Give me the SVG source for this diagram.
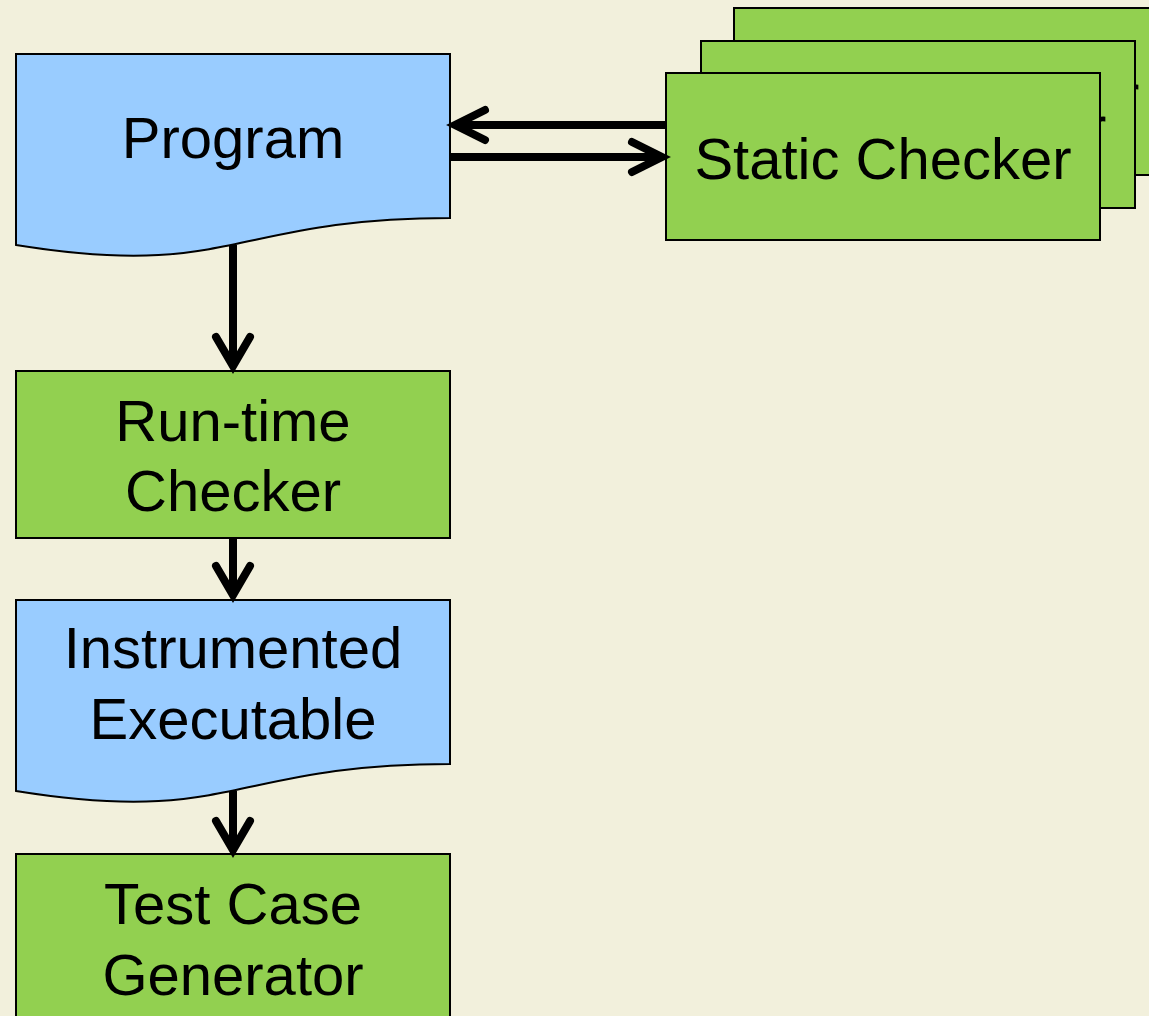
<svg xmlns="http://www.w3.org/2000/svg" width="1149" height="1016" viewBox="0 0 1149 1016">
<defs>
<style>
.doc{fill:#99CCFF;stroke:#000;stroke-width:2}
.proc{fill:#92D050;stroke:#000;stroke-width:2}
.lbl{font-family:"Liberation Sans",Arial,sans-serif;font-size:58px;fill:#000;text-anchor:middle}
.frag{font-family:"Liberation Sans",Arial,sans-serif;font-size:58px;fill:#000;text-anchor:start}
.edge{stroke:#000;stroke-width:8;fill:none}
.head{stroke:#000;stroke-width:8;fill:none;stroke-linecap:round;stroke-linejoin:miter}
</style>
</defs>
<rect x="0" y="0" width="1149" height="1016" fill="#F2F0DC"/>

<g id="static-checker-back">
<rect class="proc" x="734" y="8" width="434" height="167"/>
<text class="frag" x="1120" y="115">r</text>
</g>
<g id="static-checker-middle">
<rect class="proc" x="701" y="41" width="434" height="167"/>
<text class="frag" x="1087" y="147">r</text>
</g>
<g id="static-checker">
<rect class="proc" x="666" y="73" width="434" height="167"/>
<text class="lbl" x="883" y="179">Static Checker</text>
</g>

<g id="program">
<path class="doc" d="M16,54 H450 V218 C233,218 233,280 16,245 Z"/>
<text class="lbl" x="233" y="158">Program</text>
</g>

<g id="runtime-checker">
<rect class="proc" x="16" y="371" width="434" height="167"/>
<text class="lbl" x="233" y="441">Run-time</text>
<text class="lbl" x="233" y="511">Checker</text>
</g>

<g id="instrumented-executable">
<path class="doc" d="M16,600 H450 V764 C233,764 233,826 16,791 Z"/>
<text class="lbl" x="233" y="668">Instrumented</text>
<text class="lbl" x="233" y="739">Executable</text>
</g>

<g id="test-case-generator">
<rect class="proc" x="16" y="854" width="434" height="175"/>
<text class="lbl" x="233" y="924">Test Case</text>
<text class="lbl" x="233" y="995">Generator</text>
</g>

<g id="connectors">
<line class="edge" x1="665" y1="125" x2="456" y2="125"/>
<polyline class="head" points="485,110 455,125 485,140"/>
<line class="edge" x1="451" y1="157" x2="660" y2="157"/>
<polyline class="head" points="632,142 662,157 632,172"/>
<line class="edge" x1="233" y1="245" x2="233" y2="364"/>
<polyline class="head" points="216,337 233,366 250,337"/>
<line class="edge" x1="233" y1="539" x2="233" y2="594"/>
<polyline class="head" points="216,566 233,595 250,566"/>
<line class="edge" x1="233" y1="791" x2="233" y2="848"/>
<polyline class="head" points="216,821 233,850 250,821"/>
</g>
</svg>
